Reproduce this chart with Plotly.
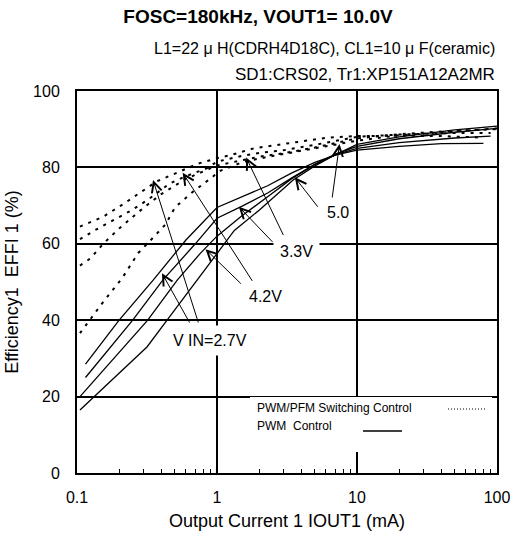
import plotly.graph_objects as go

# PWM control (solid), efficiency % vs output current mA
pwm_27_x = [0.115, 0.2, 0.35, 0.6, 1.0, 1.5, 2.3, 3.4, 5, 7, 10, 20, 40, 80]
pwm_27_y = [28.5, 40, 50.5, 61, 69.5, 72.2, 75.2, 78.5, 81.3, 83.2, 84.5, 85.5, 86.2, 86.3]
pwm_33_x = [0.115, 0.25, 0.41, 0.7, 1.0, 1.5, 2.3, 3.4, 5, 7, 10, 20, 50, 90]
pwm_33_y = [25, 40, 50.5, 60, 66.7, 69.8, 73.3, 77.2, 80.8, 83.3, 85.0, 86.5, 87.7, 88.2]
pwm_42_x = [0.105, 0.32, 0.52, 0.76, 1.0, 1.5, 2.3, 3.4, 5, 7, 10, 20, 50, 100]
pwm_42_y = [20, 40, 50.5, 57.5, 62, 67.3, 72.3, 77, 80.8, 83.5, 85.5, 87.5, 89.2, 90.2]
pwm_50_x = [0.105, 0.316, 0.44, 0.72, 1.0, 1.33, 2.0, 3.5, 4.9, 7, 10, 20, 50, 100]
pwm_50_y = [16.5, 33, 40, 50.5, 57.5, 63.5, 68.8, 76.7, 80.2, 83.3, 86.0, 88.0, 89.8, 90.8]

# PWM/PFM switching control (dotted)
pfm_27_x = [0.105, 0.154, 0.21, 0.28, 0.37, 0.51, 0.72, 1.0, 1.25, 1.83, 2.7, 3.8, 6.2, 10, 20, 40, 80]
pfm_27_y = [64.5, 67.1, 70.2, 73.2, 76.3, 78.5, 80.9, 82.4, 83.2, 85.0, 85.9, 86.7, 87.8, 88.2, 88.3, 88.2, 87.8]
pfm_33_x = [0.105, 0.135, 0.246, 0.32, 0.46, 0.59, 0.85, 1.0, 1.5, 2.0, 3.0, 5, 10, 20, 50, 90]
pfm_33_y = [61.2, 63.6, 68.8, 71.5, 75.8, 77.6, 79.8, 81.5, 83.0, 83.8, 84.5, 85.9, 88.0, 88.6, 89.0, 89.0]
pfm_42_x = [0.105, 0.125, 0.154, 0.2, 0.3, 0.4, 0.6, 1.0, 2.0, 3.0, 5, 10, 20, 50, 100]
pfm_42_y = [54.3, 56.2, 60, 64, 69.5, 73, 77, 80.5, 82.8, 83.7, 85.2, 87.6, 88.7, 89.6, 90.0]
pfm_50_x = [0.105, 0.154, 0.21, 0.274, 0.345, 0.427, 0.503, 0.575, 0.676, 0.8, 0.93, 1.02, 1.25, 1.55, 2.5, 5, 10, 20, 50, 100]
pfm_50_y = [36.6, 44.8, 51, 57.6, 61.4, 65, 69.6, 71.4, 73.7, 75.7, 77.5, 78.9, 80.2, 81.5, 83.0, 85.0, 87.0, 88.4, 89.5, 90.2]

x_tickvals = [0.1, 1, 10, 100]
x_ticktext = ["0.1", "1", "10", "100"]
x_minor = [k * 10.0 ** e for e in (-1, 0, 1) for k in range(2, 10)]
y_tickvals = [0, 20, 40, 60, 80, 100]

# label text, label position (log10 x, y), arrow tips and tails (log10 x, y)
vin_labels = ["V IN=2.7V", "4.2V", "3.3V", "5.0"]
label_pos = [(-0.047, 34.8), (0.348, 46.1), (0.570, 57.9), (0.864, 68.3)]
arrows = [
    ((-0.393, 52.3), (-0.190, 39.0)),
    ((-0.457, 76.7), (-0.130, 39.0)),
    ((-0.082, 58.6), (0.181, 49.2)),
    ((-0.245, 78.6), (0.259, 49.9)),
    ((0.156, 69.7), (0.407, 60.1)),
    ((0.208, 82.6), (0.479, 61.9)),
    ((0.556, 77.4), (0.728, 69.3)),
    ((0.875, 86.1), (0.814, 69.7)),
]

FONT = "Arial, Liberation Sans, sans-serif"
W, H = 513, 540

fig = go.Figure()

for xs, ys in [(pfm_27_x, pfm_27_y), (pfm_33_x, pfm_33_y), (pfm_42_x, pfm_42_y), (pfm_50_x, pfm_50_y)]:
    fig.add_trace(go.Scatter(x=xs, y=ys, mode="lines",
                             line=dict(color="black", width=2, dash="3px,6px"),
                             showlegend=False, hoverinfo="skip"))

for xs, ys in [(pwm_27_x, pwm_27_y), (pwm_33_x, pwm_33_y), (pwm_42_x, pwm_42_y), (pwm_50_x, pwm_50_y)]:
    fig.add_trace(go.Scatter(x=xs, y=ys, mode="lines",
                             line=dict(color="black", width=1.3),
                             showlegend=False, hoverinfo="skip"))

annotations = []
for (tip, tail) in arrows:
    annotations.append(dict(x=tip[0], y=tip[1], ax=tail[0], ay=tail[1],
                            xref="x", yref="y", axref="x", ayref="y",
                            text="", showarrow=True, arrowhead=5, arrowsize=2,
                            arrowwidth=1, arrowcolor="black"))
for txt, (lx, ly) in zip(vin_labels, label_pos):
    annotations.append(dict(x=lx, y=ly, xref="x", yref="y", text=txt, showarrow=False,
                            font=dict(family=FONT, size=16, color="black"),
                            bgcolor="white", borderpad=6))

# conditions
annotations.append(dict(x=1, y=1 + (91 - 48) / 382, xref="paper", yref="paper", xanchor="right",
                        yanchor="middle", showarrow=False,
                        text="L1=22 \u03bc H(CDRH4D18C), CL1=10 \u03bc F(ceramic)",
                        font=dict(family=FONT, size=16, color="black")))
annotations.append(dict(x=1, y=1 + (91 - 75) / 382, xref="paper", yref="paper", xanchor="right",
                        yanchor="middle", showarrow=False,
                        text="SD1:CRS02, Tr1:XP151A12A2MR",
                        font=dict(family=FONT, size=17, color="black")))

# legend text
annotations.append(dict(x=(255 - 77) / 420, y=(473 - 408) / 382, xref="paper", yref="paper",
                        xanchor="left", yanchor="middle", showarrow=False,
                        text="PWM/PFM Switching Control", font=dict(family=FONT, size=12, color="black")))
annotations.append(dict(x=(255 - 77) / 420, y=(473 - 426) / 382, xref="paper", yref="paper",
                        xanchor="left", yanchor="middle", showarrow=False,
                        text="PWM  Control", font=dict(family=FONT, size=12, color="black")))

shapes = [
    dict(type="rect", xref="paper", yref="paper", x0=(250 - 77) / 420, x1=(492 - 77) / 420,
         y0=(473 - 452) / 382, y1=(473 - 397) / 382, fillcolor="white", line=dict(width=0), layer="above"),
    dict(type="line", xref="paper", yref="paper", x0=(448 - 77) / 420, x1=(487 - 77) / 420,
         y0=(473 - 409) / 382, y1=(473 - 409) / 382, line=dict(color="black", width=1, dash="1px,2px"),
         layer="above"),
    dict(type="line", xref="paper", yref="paper", x0=(363 - 77) / 420, x1=(402 - 77) / 420,
         y0=(473 - 431) / 382, y1=(473 - 431) / 382, line=dict(color="black", width=1.3), layer="above"),
]

fig.update_layout(
    width=W, height=H,
    margin=dict(l=77, r=16, t=91, b=67),
    paper_bgcolor="white", plot_bgcolor="white",
    title=dict(text="<b>FOSC=180kHz, VOUT1= 10.0V</b>", x=258 / W, xanchor="center",
               y=1 - 16 / H, yanchor="middle", font=dict(family=FONT, size=19, color="black")),
    annotations=annotations, shapes=shapes,
)

fig.update_xaxes(
    type="log", range=[-1, 2], tickvals=x_tickvals, ticktext=x_ticktext,
    showgrid=True, gridcolor="black", gridwidth=1.5,
    showline=True, linecolor="black", linewidth=2, mirror=True,
    ticks="inside", ticklen=5, tickcolor="black", ticklabelstandoff=9,
    minor=dict(tickvals=x_minor, ticks="inside", ticklen=4, tickcolor="black", tickwidth=1, showgrid=False),
    tickfont=dict(family=FONT, size=16, color="black"),
    title=dict(text="Output Current 1 IOUT1 (mA)", font=dict(family=FONT, size=18, color="black"), standoff=9),
    zeroline=False, automargin=False,
)
fig.update_yaxes(
    range=[0, 100], tickvals=y_tickvals,
    showgrid=True, gridcolor="black", gridwidth=1.5,
    showline=True, linecolor="black", linewidth=2, mirror=True,
    ticks="", ticklabelstandoff=12,
    tickfont=dict(family=FONT, size=16, color="black"),
    title=dict(text="Efficiency1  EFFI 1 (%)", font=dict(family=FONT, size=18, color="black"), standoff=10),
    zeroline=False, automargin=False,
)

# drop the default page margin so the figure fills the window exactly
fig.write_html("out.html", config={"displayModeBar": False},
               post_script="document.body.style.margin='0';document.body.style.overflow='hidden';")
